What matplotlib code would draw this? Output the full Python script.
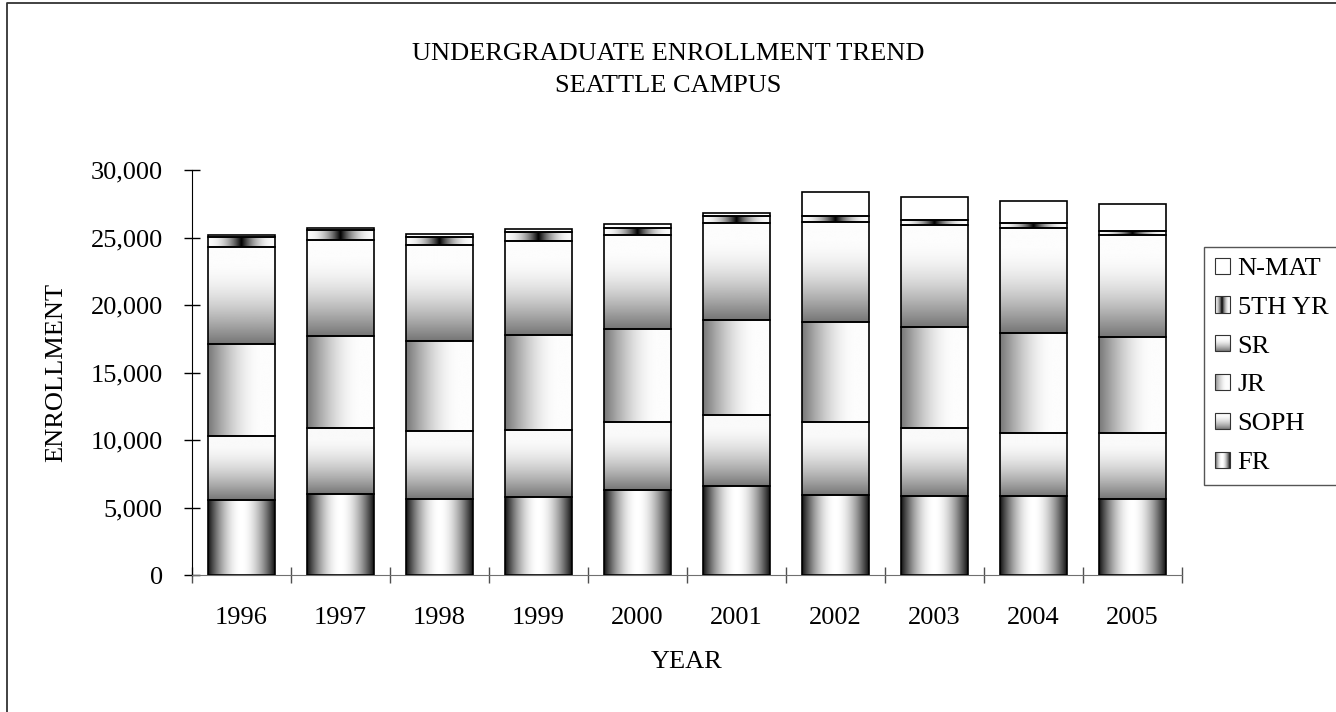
"""Stacked enrollment bars with Excel-style gradient fills."""

import numpy as np
import matplotlib

matplotlib.use("Agg")
import matplotlib.pyplot as plt
from matplotlib.legend_handler import HandlerBase
from matplotlib.lines import Line2D
from matplotlib.patches import Patch, Rectangle
from matplotlib.ticker import FuncFormatter, FixedLocator

plt.rcParams["font.family"] = ["Liberation Serif", "DejaVu Serif"]
plt.rcParams["font.size"] = 19

YEARS = ["1996", "1997", "1998", "1999", "2000", "2001", "2002", "2003", "2004", "2005"]
FR = [5520, 6010, 5640, 5770, 6310, 6580, 5960, 5820, 5820, 5640]
SOPH = [4760, 4860, 5010, 4980, 5000, 5250, 5350, 5100, 4730, 4860]
JR = [6830, 6800, 6700, 7020, 6930, 7080, 7420, 7440, 7390, 7150]
SR = [7220, 7180, 7080, 7000, 6930, 7190, 7400, 7600, 7770, 7520]
FIFTH_YR = [690, 690, 610, 620, 560, 470, 470, 360, 340, 290]
N_MAT = [200, 190, 250, 240, 250, 270, 1770, 1660, 1680, 2020]

SERIES = [("FR", FR), ("SOPH", SOPH), ("JR", JR), ("SR", SR), ("5TH YR", FIFTH_YR), ("N-MAT", N_MAT)]

t = np.linspace(0.0, 1.0, 256)
# (direction, grey profile) for each series; 1 = white
PROFILES = {
    "FR": ("h", 0.06 + 0.94 * np.sin(np.pi * t) ** 0.9),
    "SOPH": ("v", 0.98 - 0.52 * (1 - np.clip(t / 0.85, 0, 1)) ** 1.6),
    "JR": ("h", 0.47 + 0.52 * np.sin(0.5 * np.pi * np.clip(t / 0.8, 0, 1))),
    "SR": ("v", 0.46 + 0.53 * np.sin(0.5 * np.pi * np.clip(t / 0.85, 0, 1))),
    "5TH YR": ("h", 0.98 - 0.98 * (1 - np.abs(2 * t - 1)) ** 2.2),
    "N-MAT": ("h", np.ones_like(t)),
}


def gradient_array(name):
    direction, prof = PROFILES[name]
    if direction == "h":
        return prof[np.newaxis, :]
    return prof[:, np.newaxis]


class GradientHandler(HandlerBase):
    """Legend key drawn as thin grey stripes."""

    def create_artists(self, legend, orig_handle, xdescent, ydescent, width, height, fontsize, trans):
        name = orig_handle.get_label()
        direction, prof = PROFILES[name]
        n = 16
        artists = []
        for i in range(n):
            g = float(np.interp((i + 0.5) / n, t, prof))
            if direction == "h":
                r = Rectangle((-xdescent + width * i / n, -ydescent), width / n + 0.3, height,
                              facecolor=(g, g, g), edgecolor="none", transform=trans)
            else:
                r = Rectangle((-xdescent, -ydescent + height * i / n), width, height / n + 0.3,
                              facecolor=(g, g, g), edgecolor="none", transform=trans)
            artists.append(r)
        artists.append(Rectangle((-xdescent, -ydescent), width, height, facecolor="none",
                                 edgecolor="#333333", linewidth=0.8, transform=trans))
        return artists


fig = plt.figure(figsize=(13.36, 7.12), dpi=100)
ax = fig.add_axes([192 / 1336, 1 - 575 / 712, 990 / 1336, 405 / 712])

x = np.arange(len(YEARS))
bottom = np.zeros(len(YEARS))
for name, values in SERIES:
    bars = ax.bar(x, values, width=0.667, bottom=bottom, facecolor="none",
                  edgecolor="black", linewidth=1.2, zorder=3)
    grad = gradient_array(name)
    for patch in bars.patches:
        x0, y0 = patch.get_x(), patch.get_y()
        img = ax.imshow(grad, cmap="gray", vmin=0, vmax=1, aspect="auto", origin="lower",
                        interpolation="bilinear",
                        extent=[x0, x0 + patch.get_width(), y0, y0 + patch.get_height()], zorder=2)
        img.set_clip_path(patch)
    bottom += np.array(values)

ax.set_xlim(-0.5, len(YEARS) - 0.5)
ax.set_ylim(0, 30000)

ax.spines["top"].set_visible(False)
ax.spines["right"].set_visible(False)
ax.spines["bottom"].set_color("#707070")
ax.spines["left"].set_color("black")

ax.set_yticks(np.arange(0, 30001, 5000))
ax.yaxis.set_major_formatter(FuncFormatter(lambda v, _: f"{int(v):,}"))
ax.tick_params(axis="y", direction="inout", length=12, width=1, pad=15)

ax.set_xticks(x)
ax.set_xticklabels(YEARS)
ax.xaxis.set_minor_locator(FixedLocator(np.arange(-0.5, len(YEARS), 1.0)))
ax.tick_params(axis="x", which="major", length=0, pad=23)
ax.tick_params(axis="x", which="minor", direction="inout", length=12, width=1, color="#505050")

ax.set_xlabel("YEAR")
ax.xaxis.set_label_coords(0.5, (575 - 662) / 405)
ax.xaxis.label.set_verticalalignment("center")
ax.set_ylabel("ENROLLMENT")
ax.yaxis.set_label_coords((56 - 192) / 990, 0.5)
ax.yaxis.label.set_verticalalignment("center")

fig.text(668 / 1336, 1 - 70 / 712, "UNDERGRADUATE ENROLLMENT TREND\nSEATTLE CAMPUS",
         ha="center", va="center", linespacing=1.6)

handles = [Patch(label=name) for name, _ in reversed(SERIES)]
leg = fig.legend(handles=handles, loc="upper left", bbox_to_anchor=(1204 / 1336, 1 - 247 / 712),
                 handler_map={Patch: GradientHandler()}, handlelength=0.57, handleheight=0.57,
                 handletextpad=0.3, labelspacing=0.62, borderpad=0.4, borderaxespad=0,
                 fancybox=False, framealpha=1, edgecolor="#555555")
leg.get_frame().set_linewidth(1)

# outer chart border (left and top edges visible)
fig.add_artist(Line2D([7 / 1336, 7 / 1336, 1.0], [0.0, 1 - 3 / 712, 1 - 3 / 712],
                      transform=fig.transFigure, color="#333333", linewidth=1.3))

fig.savefig("out.png", dpi=100)
